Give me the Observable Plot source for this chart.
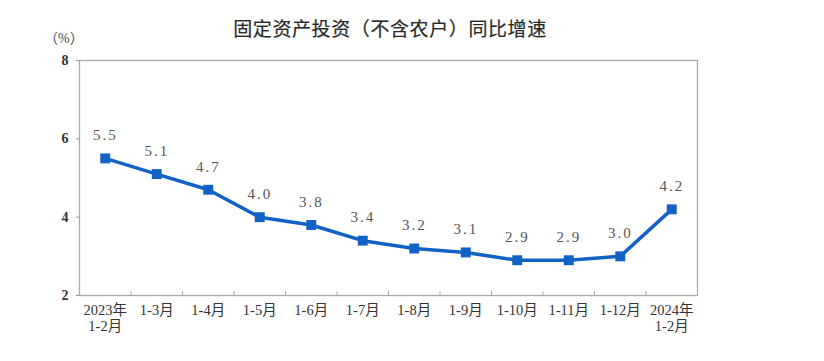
<!DOCTYPE html>
<html>
<head>
<meta charset="utf-8">
<script src="https://cdn.jsdelivr.net/npm/d3@7"></script>
<script src="https://cdn.jsdelivr.net/npm/@observablehq/plot@0.6"></script>
<style>
  html, body { margin: 0; padding: 0; background: #fff; }
  #wrap { position: relative; width: 824px; height: 361px; overflow: hidden; }
  #title { position: absolute; left: 0; width: 780px; top: 14px; text-align: center;
    font-family: "Noto Sans CJK SC", sans-serif; font-size: 19px; color: #2a2a2a; letter-spacing: 0.6px; -webkit-text-stroke: 0.2px #2a2a2a; }
  #unit { position: absolute; left: 44px; top: 27px; font-family: "Liberation Serif", "Noto Sans CJK SC", serif;
    font-size: 14px; color: #444; }
  #chart { position: absolute; left: 0; top: 0; }
</style>
</head>
<body>
<div id="wrap">
  <div id="chart"></div>
  <div id="title">固定资产投资（不含农户）同比增速</div>
  <div id="unit">（%）</div>
</div>
<script>
const categories = ["2023年\n1-2月", "1-3月", "1-4月", "1-5月", "1-6月", "1-7月", "1-8月", "1-9月", "1-10月", "1-11月", "1-12月", "2024年\n1-2月"];
const values = [5.5, 5.1, 4.7, 4.0, 3.8, 3.4, 3.2, 3.1, 2.9, 2.9, 3.0, 4.2];
const yTicks = [2, 4, 6, 8];

const data = categories.map((c, i) => ({i, label: c, value: values[i]}));
const idx = d3.range(categories.length);
const boundaries = idx.slice(1).map(i => i - 0.5);

const blue = "#1262c6";

const plot = Plot.plot({
  width: 824,
  height: 361,
  marginLeft: 79,
  marginRight: 127,
  marginTop: 60,
  marginBottom: 66,
  style: {fontFamily: '"Liberation Serif", "Noto Sans CJK SC", serif', fontSize: "13px", color: "#333", background: "#fff"},
  x: {type: "linear", domain: [-0.5, categories.length - 0.5], axis: null},
  y: {domain: [2, 8], axis: null},
  marks: [
    Plot.axisX(idx, {label: null, tickSize: 0, tickPadding: 8, tickFormat: i => categories[i], fontSize: 14.5, lineHeight: 1.1, fill: "#333"}),
    Plot.axisY(yTicks, {label: null, tickSize: 3, tickPadding: 8, fontSize: 14, fontWeight: "bold", fill: "#333", stroke: "#999"}),
    Plot.ruleX(boundaries, {y1: 2, y2: 2.1, stroke: "#aaa", strokeWidth: 1}),
    Plot.frame({stroke: "#aaa", strokeWidth: 1.3}),
    Plot.lineY(data, {x: "i", y: "value", stroke: blue, strokeWidth: 3.5}),
    Plot.dot(data, {x: "i", y: "value", symbol: "square", fill: blue, r: 5.6}),
    Plot.text(data, {x: "i", y: "value", text: d => d.value.toFixed(1), dy: -23, fontSize: 15, fill: "#555"})
  ]
});
document.getElementById("chart").appendChild(plot);
plot.querySelectorAll('g[aria-label="text"] text').forEach(t => t.setAttribute("letter-spacing", "2"));
</script>
</body>
</html>
